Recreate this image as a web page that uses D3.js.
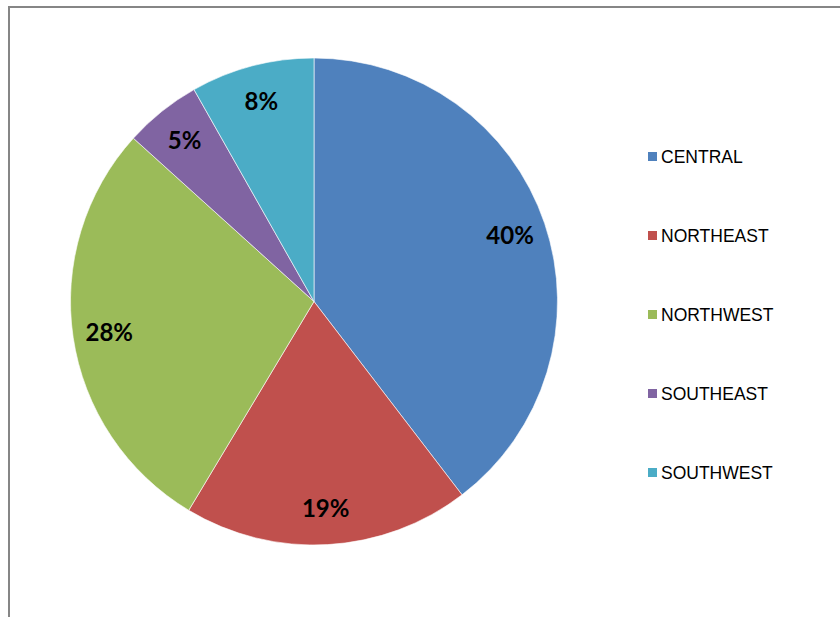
<!DOCTYPE html>
<html><head><meta charset="utf-8">
<script src="https://cdn.jsdelivr.net/npm/d3@7"></script>
<style>html,body{margin:0;padding:0;background:#fff;}svg{display:block;}</style>
</head><body>
<svg id="c" width="840" height="617"></svg>
<script>
const categories = ["CENTRAL", "NORTHEAST", "NORTHWEST", "SOUTHEAST", "SOUTHWEST"];
const values = [39.6, 19.0, 28.1, 5.1, 8.2];
const colors = ["#4F81BD", "#C0504D", "#9BBB59", "#8064A2", "#4BACC6"];

const svg = d3.select("#c");
// chart frame
svg.append("path").attr("d", "M9,620 L9,7 L845,7").attr("fill", "none")
  .attr("stroke", "#868686").attr("stroke-width", 2);

const cx = 314, cy = 301.5, R = 243.5;
const total = d3.sum(values);
const pie = d3.pie().sort(null).value(d => d)(values);
const arc = d3.arc().innerRadius(0).outerRadius(R);
const labelArc = d3.arc().innerRadius(207).outerRadius(207);
const color = d3.scaleOrdinal().domain(categories).range(colors);

const g = svg.append("g").attr("transform", `translate(${cx},${cy})`);
g.selectAll("path.slice").data(pie).join("path").attr("class", "slice")
  .attr("d", arc).attr("fill", (d, i) => color(categories[i]))
  .attr("stroke", "#ffffff").attr("stroke-width", 0.75).attr("stroke-opacity", 0.8);

g.selectAll("text.lbl").data(pie).join("text").attr("class", "lbl")
  .attr("transform", d => `translate(${labelArc.centroid(d)})`)
  .attr("text-anchor", "middle").attr("dy", "0.36em")
  .attr("font-family", "Lato, 'Open Sans', sans-serif").attr("font-weight", "bold")
  .attr("font-size", 24).attr("fill", "#000")
  .text(d => Math.round(d.data / total * 100) + "%");

const ly = d3.scalePoint().domain(categories).range([156.5, 472.5]);
const leg = svg.append("g");
categories.forEach(c => {
  leg.append("rect").attr("x", 648).attr("y", ly(c) - 4.5).attr("width", 9).attr("height", 9)
    .attr("fill", color(c));
  leg.append("text").attr("x", 661).attr("y", ly(c) + 6.3)
    .attr("font-family", "'Liberation Sans', Arial, sans-serif").attr("font-size", 17.5)
    .attr("fill", "#000").text(c);
});
</script>
</body></html>
